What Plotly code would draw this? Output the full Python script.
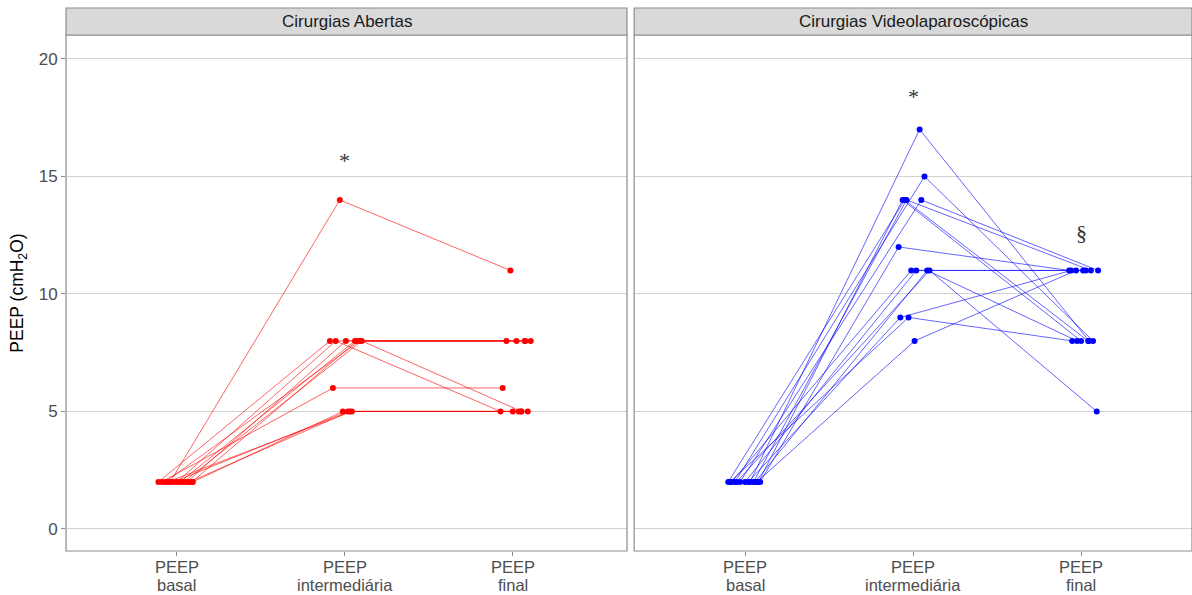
import plotly.graph_objects as go

# Measurement stages (x categories), each label shown on two lines
stage_top = ["PEEP", "PEEP", "PEEP"]
stage_bottom = ["basal", "intermediária", "final"]

# Cirurgias Abertas: PEEP per patient at each stage, plus horizontal jitter per point
open_basal = [2, 2, 2, 2, 2, 2, 2, 2, 2, 2, 2, 2, 2]
open_inter = [14, 8, 8, 8, 8, 8, 8, 8, 6, 5, 5, 5, 5]
open_final = [11, 8, 8, 8, 8, 8, 5, 5, 6, 5, 5, 5, 5]
open_jit_basal = [-0.04, -0.11, 0.06, 0.02, 0.09, -0.07, 0.0, 0.04, -0.09, 0.095, -0.02, 0.075, -0.055]
open_jit_inter = [-0.03, -0.089, 0.006, 0.06, 0.071, 0.089, -0.054, 0.101, -0.071, -0.012, 0.018, 0.03, 0.042]
open_jit_final = [-0.014, -0.038, 0.022, 0.071, 0.107, 0.074, -0.073, 0.052, -0.06, 0.0, 0.036, 0.089, 0.048]

# Cirurgias Videolaparoscópicas
vlp_basal = [2, 2, 2, 2, 2, 2, 2, 2, 2, 2, 2, 2, 2, 2]
vlp_inter = [17, 15, 14, 14, 14, 14, 12, 11, 11, 11, 11, 9, 9, 8]
vlp_final = [8, 8, 8, 8, 11, 11, 11, 11, 11, 8, 5, 11, 8, 11]
vlp_jit_basal = [0.03, -0.06, 0.08, -0.1, 0.05, -0.03, 0.09, -0.08, 0.0, 0.06, -0.05, 0.02, -0.09, 0.07]
vlp_jit_inter = [0.039, 0.068, -0.062, -0.05, -0.039, 0.049, -0.086, -0.011, 0.019, 0.084, 0.098, -0.076, -0.027, 0.009]
vlp_jit_final = [0.047, 0.071, 0.0, 0.042, 0.058, 0.101, -0.071, 0.012, 0.028, -0.024, 0.093, -0.059, -0.053, -0.03]

panels = [
    ("Cirurgias Abertas", open_basal, open_inter, open_final,
     open_jit_basal, open_jit_inter, open_jit_final, "x", "y", "#ff0000"),
    ("Cirurgias Videolaparoscópicas", vlp_basal, vlp_inter, vlp_final,
     vlp_jit_basal, vlp_jit_inter, vlp_jit_final, "x2", "y2", "#0000ff"),
]

# Significance marks: (panel x axis, panel y axis, stage index, y value, symbol)
marks = [
    ("x", "y", 2, 15.7, "*"),
    ("x2", "y2", 2, 18.4, "*"),
    ("x2", "y2", 3, 12.6, "§"),
]

fig = go.Figure()

for name, b, m, f, jb, jm, jf, xa, ya, col in panels:
    # one semi-transparent line per patient
    for i in range(len(b)):
        xs = [1 + jb[i], 2 + jm[i], 3 + jf[i]]
        ys = [b[i], m[i], f[i]]
        fig.add_trace(go.Scatter(x=xs, y=ys, mode="lines", xaxis=xa, yaxis=ya,
                                 line=dict(color=col, width=1), opacity=0.6,
                                 showlegend=False, hoverinfo="skip"))
    px, py = [], []
    for i in range(len(b)):
        px += [1 + jb[i], 2 + jm[i], 3 + jf[i]]
        py += [b[i], m[i], f[i]]
    fig.add_trace(go.Scatter(x=px, y=py, mode="markers", xaxis=xa, yaxis=ya,
                             marker=dict(color=col, size=6), showlegend=False))

gap_l, gap_r = 0.0554, 0.526
right_l = 0.532
yrange = [-0.94, 21.02]
grid = "#d2d2d2"
tickc = "#4d4d4d"
fsz = 17
panel_px = 516  # plot area height in pixels

xcommon = dict(tickvals=[1, 2, 3], showticklabels=False, showgrid=False, zeroline=False,
               ticks="outside", ticklen=4, tickcolor="#8c8c8c", automargin=False,
               showline=False)
fig.update_layout(
    xaxis=dict(domain=[gap_l, gap_r], range=[0.34, 3.68], **xcommon),
    xaxis2=dict(domain=[right_l, 1.0], range=[0.34, 3.66], anchor="y2", **xcommon),
    yaxis=dict(domain=[0, 1], range=yrange, tickvals=[0, 5, 10, 15, 20],
               showgrid=True, gridcolor=grid, gridwidth=1, zeroline=False,
               ticks="outside", ticklen=4, tickcolor="#8c8c8c", automargin=False,
               tickfont=dict(size=fsz, color=tickc, family="Liberation Sans"),
               title=dict(text="PEEP (cmH<sub>2</sub>O)",
                          font=dict(size=17.5, color="black", family="Liberation Sans"),
                          standoff=10)),
    yaxis2=dict(domain=[0, 1], range=yrange, tickvals=[0, 5, 10, 15, 20],
                showgrid=True, gridcolor=grid, gridwidth=1, zeroline=False,
                showticklabels=False, anchor="x2", automargin=False),
    width=1192, height=595,
    margin=dict(l=0, r=0, t=35, b=44),
    plot_bgcolor="white", paper_bgcolor="white",
    font=dict(family="Liberation Sans"),
)

strip_h = 27 / panel_px
shapes = []
annotations = []
for (x0, x1), (name, *_rest) in zip([(gap_l, gap_r), (right_l, 1.0)], panels):
    shapes.append(dict(type="rect", xref="paper", yref="paper", x0=x0, x1=x1, y0=0, y1=1,
                       line=dict(color="#8c8c8c", width=1.2), fillcolor="rgba(0,0,0,0)",
                       layer="above"))
    shapes.append(dict(type="rect", xref="paper", yref="paper", x0=x0, x1=x1, y0=1, y1=1 + strip_h,
                       line=dict(color="#8c8c8c", width=1.2), fillcolor="#d9d9d9"))
    annotations.append(dict(text=name, xref="paper", yref="paper", x=(x0 + x1) / 2,
                            y=1 + strip_h / 2, showarrow=False, xanchor="center",
                            yanchor="middle",
                            font=dict(size=fsz, color="#1a1a1a", family="Liberation Sans")))

# Two-line category labels under each panel
for xa in ["x", "x2"]:
    for k in range(3):
        for txt, off in [(stage_top[k], 16), (stage_bottom[k], 34)]:
            annotations.append(dict(text=txt, xref=xa, yref="paper", x=k + 1,
                                    y=-off / panel_px, showarrow=False,
                                    xanchor="center", yanchor="middle",
                                    font=dict(size=16.5, color=tickc, family="Liberation Sans")))

for xa, ya, stage, yv, sym in marks:
    annotations.append(dict(text=sym, xref=xa, yref=ya, x=stage, y=yv, showarrow=False,
                            xanchor="center", yanchor="middle",
                            font=dict(size=22, color="#333333", family="Liberation Serif")))

fig.update_layout(shapes=shapes, annotations=annotations)
fig.write_html("out.html")
